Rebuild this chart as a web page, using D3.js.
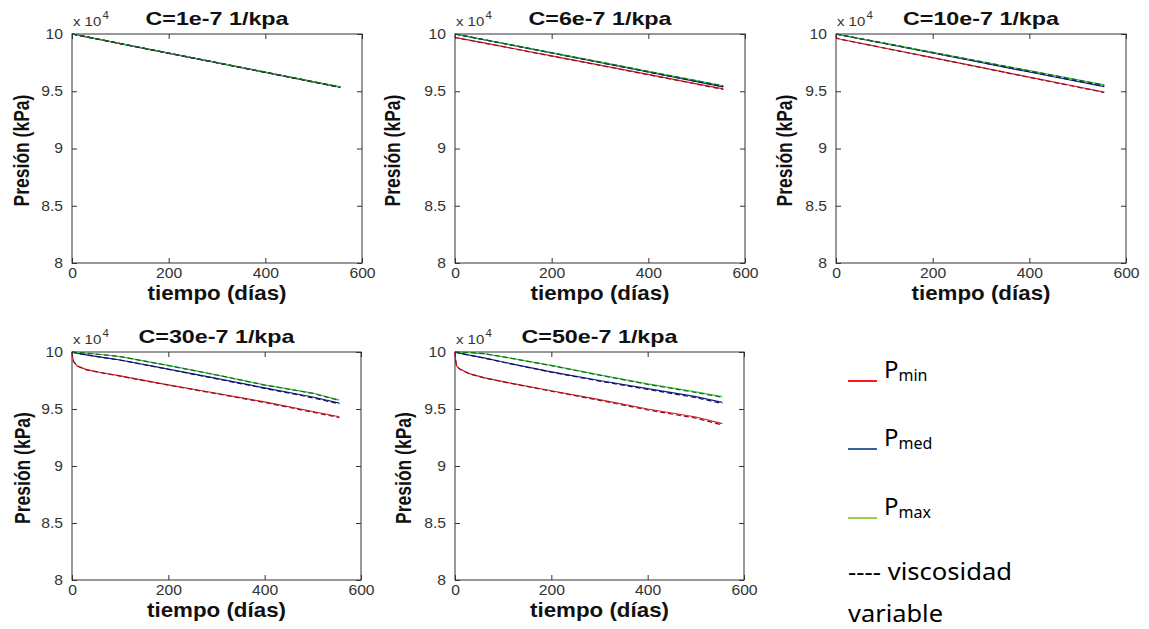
<!DOCTYPE html>
<html>
<head>
<meta charset="utf-8">
<script src="https://cdn.jsdelivr.net/npm/d3@7"></script>
<style>
  body { margin: 0; background: #fff; }
  svg { display: block; }
  .tick line { stroke: #333; }
  .tick text { fill: #333; font-family: "Liberation Sans", Arial, sans-serif; font-size: 14px; }
</style>
</head>
<body>
<div id="chart"></div>
<script>
// tiempo (días) and presión (x 10^4 kPa)
const tiempo = [0, 1, 3, 10, 30, 60, 100, 200, 300, 400, 500, 555];

const titulos = ["C=1e-7 1/kpa", "C=6e-7 1/kpa", "C=10e-7 1/kpa", "C=30e-7 1/kpa", "C=50e-7 1/kpa"];
const xTicks = [0, 200, 400, 600];
const yTicks = [8, 8.5, 9, 9.5, 10];

// C = 1e-7
const c1Min = [10.000, 9.999, 9.998, 9.992, 9.975, 9.950, 9.916, 9.832, 9.749, 9.665, 9.581, 9.535];
const c1Med = [10.000, 9.999, 9.998, 9.992, 9.975, 9.950, 9.916, 9.833, 9.750, 9.666, 9.582, 9.536];
const c1Max = [10.000, 9.999, 9.998, 9.992, 9.976, 9.951, 9.917, 9.834, 9.751, 9.668, 9.584, 9.538];
const c1MinVar = [10.000, 9.999, 9.997, 9.991, 9.974, 9.949, 9.915, 9.831, 9.748, 9.664, 9.580, 9.533];
const c1MedVar = [10.000, 9.999, 9.998, 9.992, 9.975, 9.950, 9.916, 9.832, 9.749, 9.665, 9.581, 9.535];
const c1MaxVar = [10.000, 9.999, 9.998, 9.992, 9.976, 9.951, 9.917, 9.833, 9.750, 9.667, 9.583, 9.537];

// C = 6e-7
const c2Min = [9.985, 9.972, 9.968, 9.962, 9.946, 9.922, 9.890, 9.809, 9.728, 9.647, 9.565, 9.520];
const c2Med = [10.000, 9.999, 9.997, 9.992, 9.975, 9.950, 9.917, 9.834, 9.751, 9.668, 9.584, 9.538];
const c2Max = [10.000, 9.999, 9.998, 9.992, 9.976, 9.951, 9.919, 9.837, 9.756, 9.674, 9.593, 9.548];
const c2MinVar = [9.984, 9.971, 9.967, 9.961, 9.945, 9.921, 9.889, 9.807, 9.726, 9.644, 9.562, 9.516];
const c2MedVar = [10.000, 9.999, 9.997, 9.991, 9.975, 9.950, 9.917, 9.834, 9.751, 9.668, 9.585, 9.540];
const c2MaxVar = [10.000, 9.999, 9.998, 9.992, 9.976, 9.951, 9.918, 9.836, 9.755, 9.673, 9.592, 9.547];

// C = 10e-7
const c3Min = [9.985, 9.968, 9.962, 9.954, 9.937, 9.912, 9.878, 9.793, 9.708, 9.623, 9.539, 9.492];
const c3Med = [10.000, 9.999, 9.997, 9.991, 9.975, 9.950, 9.917, 9.834, 9.751, 9.668, 9.585, 9.540];
const c3Max = [10.000, 9.999, 9.998, 9.992, 9.976, 9.952, 9.920, 9.840, 9.760, 9.680, 9.600, 9.555];
const c3MinVar = [9.984, 9.967, 9.961, 9.953, 9.936, 9.911, 9.877, 9.792, 9.707, 9.621, 9.536, 9.489];
const c3MedVar = [10.000, 9.999, 9.997, 9.991, 9.975, 9.951, 9.918, 9.836, 9.753, 9.671, 9.589, 9.545];
const c3MaxVar = [10.000, 9.999, 9.998, 9.992, 9.976, 9.952, 9.920, 9.839, 9.759, 9.679, 9.599, 9.553];

// C = 30e-7
const c4Min = [10.000, 9.960, 9.920, 9.880, 9.845, 9.820, 9.790, 9.712, 9.638, 9.562, 9.478, 9.432];
const c4Med = [10.000, 9.999, 9.997, 9.990, 9.975, 9.955, 9.930, 9.850, 9.768, 9.685, 9.605, 9.552];
const c4Max = [10.000, 10.000, 9.999, 9.997, 9.990, 9.978, 9.960, 9.882, 9.800, 9.712, 9.640, 9.578];
const c4MinVar = [10.000, 9.958, 9.918, 9.878, 9.843, 9.818, 9.788, 9.709, 9.634, 9.557, 9.472, 9.425];
const c4MedVar = [10.000, 9.999, 9.997, 9.990, 9.974, 9.954, 9.929, 9.848, 9.765, 9.681, 9.598, 9.545];
const c4MaxVar = [10.000, 10.000, 9.999, 9.997, 9.990, 9.978, 9.960, 9.881, 9.798, 9.710, 9.637, 9.575];

// C = 50e-7
const c5Min = [10.000, 9.940, 9.880, 9.850, 9.810, 9.775, 9.740, 9.660, 9.582, 9.500, 9.430, 9.372];
const c5Med = [10.000, 9.999, 9.996, 9.990, 9.972, 9.948, 9.912, 9.826, 9.750, 9.678, 9.608, 9.558];
const c5Max = [10.000, 10.000, 10.000, 9.999, 9.995, 9.985, 9.958, 9.882, 9.800, 9.720, 9.650, 9.608];
const c5MinVar = [10.000, 9.938, 9.878, 9.848, 9.808, 9.773, 9.738, 9.656, 9.576, 9.492, 9.420, 9.360];
const c5MedVar = [10.000, 9.999, 9.996, 9.990, 9.971, 9.947, 9.910, 9.823, 9.745, 9.672, 9.600, 9.548];
const c5MaxVar = [10.000, 10.000, 10.000, 9.999, 9.995, 9.985, 9.957, 9.880, 9.797, 9.716, 9.645, 9.602];

const legendNames = ["min", "med", "max"];

const seriesByPanel = [
    [c1Min, c1Med, c1Max, c1MinVar, c1MedVar, c1MaxVar],
    [c2Min, c2Med, c2Max, c2MinVar, c2MedVar, c2MaxVar],
    [c3Min, c3Med, c3Max, c3MinVar, c3MedVar, c3MaxVar],
    [c4Min, c4Med, c4Max, c4MinVar, c4MedVar, c4MaxVar],
    [c5Min, c5Med, c5Max, c5MinVar, c5MedVar, c5MaxVar]
];

// layout
const panels = [
    {x: 72, y: 34, w: 290, h: 229, yl: 43, tw: 143},
    {x: 455, y: 34, w: 290, h: 229, yl: 55, tw: 143},
    {x: 836, y: 34, w: 290, h: 229, yl: 44, tw: 156},
    {x: 72, y: 352, w: 289, h: 228, yl: 42, tw: 156},
    {x: 455, y: 352, w: 289, h: 228, yl: 44, tw: 156}
];
const lineColors = ["#d0202c", "#1a1a90", "#2ccc3a"];
const dashColors = ["#8a1020", "#101060", "#1f5f24"];
const legendColors = ["#ff1a1a", "#35609c", "#92d050"];

const svg = d3.select("#chart").append("svg")
    .attr("width", 1149)
    .attr("height", 629);

const font = "'Liberation Sans', Arial, sans-serif";

panels.forEach((p, i) => {
    const g = svg.append("g").attr("transform", `translate(${p.x},${p.y})`);
    const x = d3.scaleLinear().domain([0, 600]).range([0, p.w]);
    const y = d3.scaleLinear().domain([8, 10]).range([p.h, 0]);

    const bottom = g.append("g").attr("transform", `translate(0,${p.h})`)
        .call(d3.axisBottom(x).tickValues(xTicks).tickSize(-5).tickSizeOuter(0).tickPadding(5));
    g.append("g")
        .call(d3.axisTop(x).tickValues(xTicks).tickSize(-5).tickSizeOuter(0).tickFormat(""));
    const left = g.append("g")
        .call(d3.axisLeft(y).tickValues(yTicks).tickSize(-5).tickSizeOuter(0).tickPadding(8).tickFormat(d => d));
    g.append("g").attr("transform", `translate(${p.w},0)`)
        .call(d3.axisRight(y).tickValues(yTicks).tickSize(-5).tickSizeOuter(0).tickFormat(""));
    g.selectAll(".domain").remove();
    bottom.selectAll("text").attr("transform", "scale(1.12,1)");
    left.selectAll("text").attr("transform", "scale(1.12,1)");

    // plot box
    g.append("rect")
        .attr("width", p.w).attr("height", p.h)
        .attr("fill", "none").attr("stroke", "#333").attr("stroke-width", 1);

    const line = d3.line()
        .x((d, k) => x(tiempo[k]))
        .y(d => y(d));

    const series = seriesByPanel[i];
    // solid lines first, then the variable viscosity runs dashed on top
    series.forEach((s, k) => {
        const dashed = k >= 3;
        g.append("path")
            .datum(s)
            .attr("d", line)
            .attr("fill", "none")
            .attr("stroke", dashed ? dashColors[k - 3] : lineColors[k])
            .attr("stroke-width", 1.2)
            .attr("stroke-dasharray", dashed ? "5,3" : null);
    });

    // title
    g.append("text")
        .attr("x", p.w / 2)
        .attr("y", -9)
        .attr("text-anchor", "middle")
        .attr("textLength", p.tw)
        .attr("lengthAdjust", "spacingAndGlyphs")
        .style("font", `bold 19px ${font}`)
        .attr("fill", "#111")
        .text(titulos[i]);

    // exponent
    const ex = g.append("text")
        .attr("transform", `translate(1,-8) scale(1.15,1)`)
        .style("font", `13px ${font}`)
        .attr("fill", "#333");
    ex.append("tspan").text("x 10");
    ex.append("tspan").attr("dx", 1).attr("dy", -7).style("font-size", "10px").text("4");

    // x label
    g.append("text")
        .attr("x", p.w / 2)
        .attr("y", p.h + 37)
        .attr("text-anchor", "middle")
        .attr("textLength", 139)
        .attr("lengthAdjust", "spacingAndGlyphs")
        .style("font", `bold 21px ${font}`)
        .attr("fill", "#111")
        .text("tiempo (días)");

    // y label
    g.append("text")
        .attr("transform", `translate(${-p.yl},${p.h / 2 + 2}) scale(1.25,1) rotate(-90)`)
        .attr("text-anchor", "middle")
        .style("font", `bold 17.5px ${font}`)
        .attr("fill", "#111")
        .text("Presión (kPa)");
});

// legend
const legendFont = "'Noto Sans', 'Open Sans', sans-serif";
const legendY = [381, 449, 518];
legendNames.forEach((name, k) => {
    svg.append("line")
        .attr("x1", 848).attr("x2", 877)
        .attr("y1", legendY[k]).attr("y2", legendY[k])
        .attr("stroke", legendColors[k])
        .attr("stroke-width", 2);
    const t = svg.append("text")
        .attr("x", 884)
        .attr("y", legendY[k] - 3)
        .style("font", `24px ${legendFont}`)
        .attr("fill", "#000");
    t.append("tspan").text("P");
    t.append("tspan").attr("dy", 3).style("font-size", "16px").text(name);
});

svg.append("text")
    .attr("x", 848).attr("y", 580)
    .attr("textLength", 164)
    .attr("lengthAdjust", "spacingAndGlyphs")
    .style("font", `24px ${legendFont}`)
    .attr("fill", "#000")
    .text("---- viscosidad");

svg.append("text")
    .attr("x", 848).attr("y", 622)
    .attr("textLength", 95)
    .attr("lengthAdjust", "spacingAndGlyphs")
    .style("font", `24px ${legendFont}`)
    .attr("fill", "#000")
    .text("variable");
</script>
</body>
</html>
